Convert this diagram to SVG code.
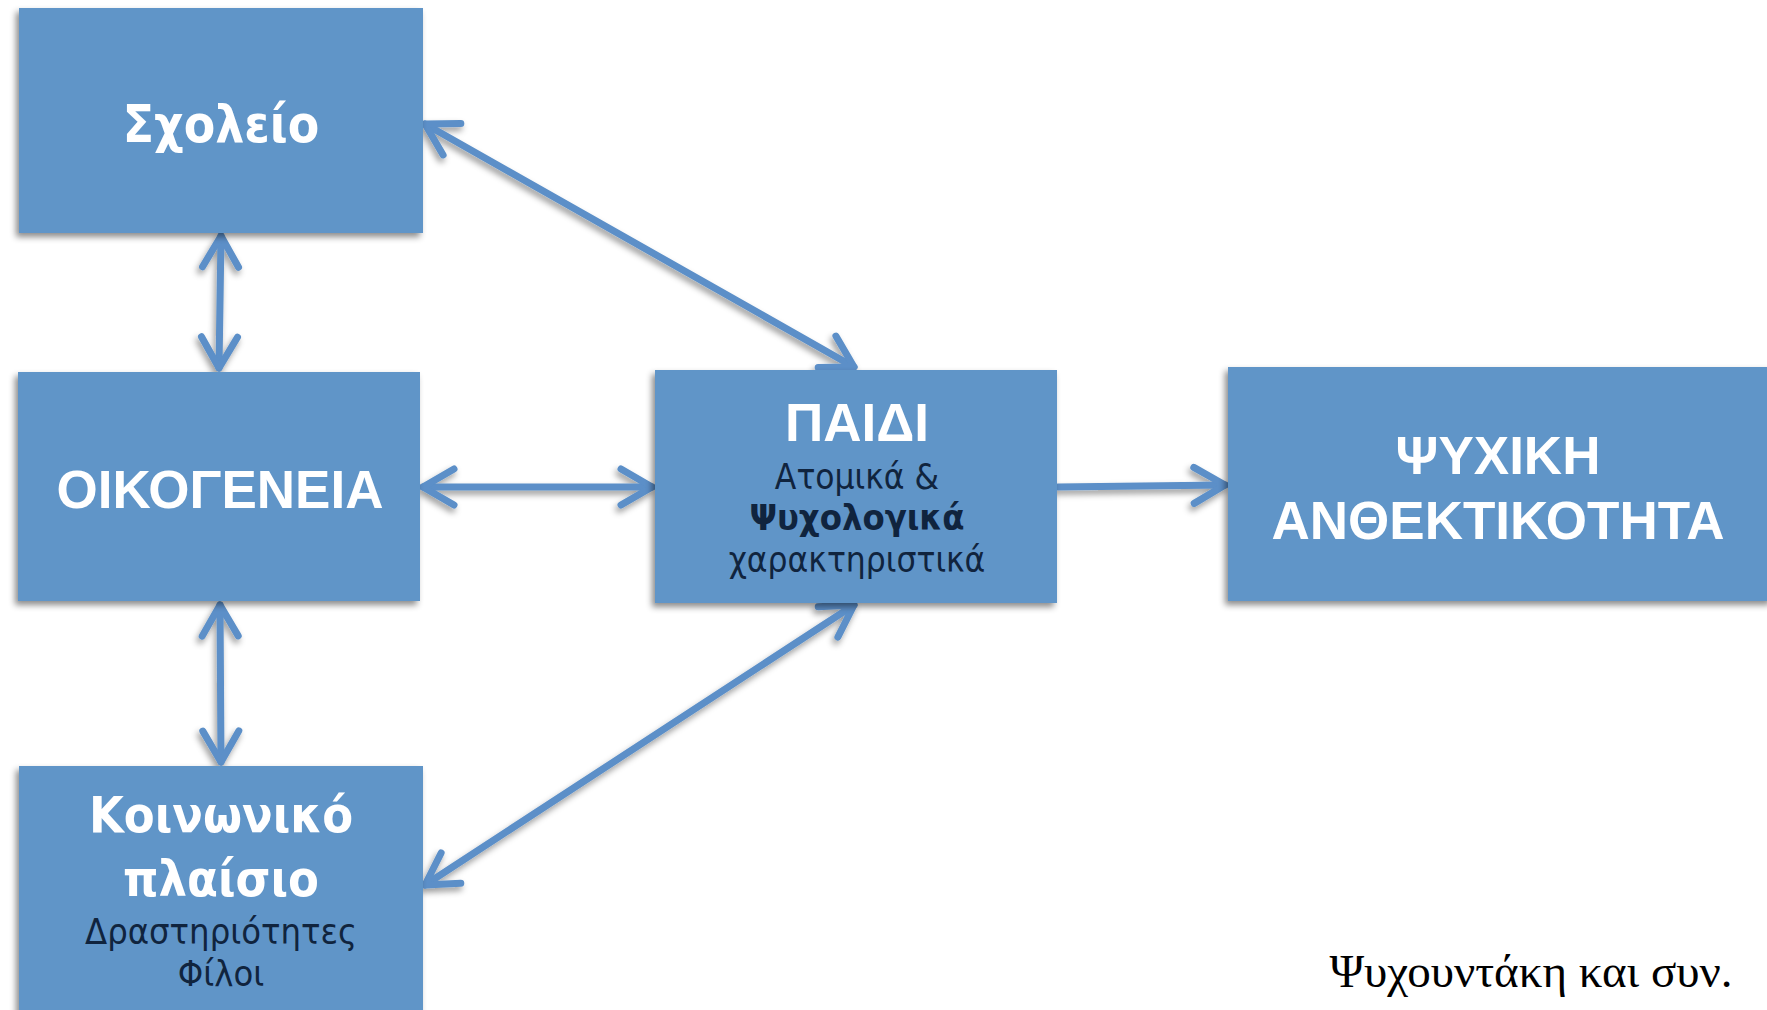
<svg xmlns="http://www.w3.org/2000/svg" width="1767" height="1010" viewBox="0 0 1767 1010">
<defs>
<filter id="sh" x="-10%" y="-10%" width="120%" height="130%">
<feDropShadow dx="-3" dy="4" stdDeviation="3" flood-color="#000" flood-opacity="0.45"/>
</filter>
<filter id="ash" x="-10%" y="-10%" width="120%" height="130%">
<feDropShadow dx="-2" dy="4" stdDeviation="3" flood-color="#000" flood-opacity="0.4"/>
</filter>
<marker id="head" viewBox="-40 -25 50 50" markerWidth="50" markerHeight="50" refX="0" refY="0" orient="auto-start-reverse" markerUnits="userSpaceOnUse">
<path d="M -31,-18 L 0,0 L -31,18" fill="none" stroke="#5B8FC8" stroke-width="7" stroke-linecap="round" stroke-linejoin="round"/>
</marker>
</defs>
<style>
.box { fill: #6195C8; filter: url(#sh); }
.t { font-family: "DejaVu Sans Condensed", "DejaVu Sans", sans-serif; font-stretch: condensed; font-weight: bold; fill: #FFFFFF; text-anchor: middle; }
.ta { font-family: "Liberation Sans", Arial, sans-serif; font-weight: bold; fill: #FFFFFF; text-anchor: middle; }
.s { font-family: "DejaVu Sans Condensed", "DejaVu Sans", sans-serif; font-stretch: condensed; fill: #10243E; text-anchor: middle; }
.conn path { fill: none; stroke: #5B8FC8; stroke-width: 7; stroke-linecap: round; }
</style>
<rect width="1767" height="1010" fill="#FFFFFF"/>
<g id="connectors" class="conn" filter="url(#ash)">
<path d="M 221,236 L 219,368" marker-start="url(#head)" marker-end="url(#head)"/>
<path d="M 425,124 L 854,367" marker-start="url(#head)" marker-end="url(#head)"/>
<path d="M 423,487 L 652,487" marker-start="url(#head)" marker-end="url(#head)"/>
<path d="M 1058,487 L 1225,485" marker-end="url(#head)"/>
<path d="M 220,605 L 221,762" marker-start="url(#head)" marker-end="url(#head)"/>
<path d="M 854,605 L 425,885" marker-start="url(#head)" marker-end="url(#head)"/>
</g>
<g id="scholeio">
<rect class="box" x="19" y="8" width="404" height="225"/>
<text class="t" x="221" y="142" font-size="51">Σχολείο</text>
</g>
<g id="oikogeneia">
<rect class="box" x="18" y="372" width="402" height="229"/>
<text class="ta" x="220" y="508" font-size="53">ΟΙΚΟΓΕΝΕΙΑ</text>
</g>
<g id="paidi">
<rect class="box" x="655" y="370" width="402" height="233"/>
<text class="ta" x="857" y="441" font-size="53">ΠΑΙΔΙ</text>
<text class="s" x="857" y="489" font-size="35">Ατομικά &amp;</text>
<text class="s" x="857" y="530" font-size="36" font-weight="bold">Ψυχολογικά</text>
<text class="s" x="857" y="572" font-size="35">χαρακτηριστικά</text>
</g>
<g id="psychiki">
<rect class="box" x="1228" y="367" width="545" height="234"/>
<text class="ta" x="1498" y="474" font-size="53">ΨΥΧΙΚΗ</text>
<text class="ta" x="1498" y="539" font-size="53">ΑΝΘΕΚΤΙΚΟΤΗΤΑ</text>
</g>
<g id="koinoniko">
<rect class="box" x="19" y="766" width="404" height="260"/>
<text class="t" x="221" y="832" font-size="50">Κοινωνικό</text>
<text class="t" x="221" y="896" font-size="50">πλαίσιο</text>
<text class="s" x="221" y="944" font-size="36">Δραστηριότητες</text>
<text class="s" x="221" y="986" font-size="36">Φίλοι</text>
</g>
<g id="caption">
<text x="1531" y="987" font-family="Liberation Serif, serif" font-size="47" fill="#000" text-anchor="middle">Ψυχουντάκη και συν.</text>
</g>
</svg>
